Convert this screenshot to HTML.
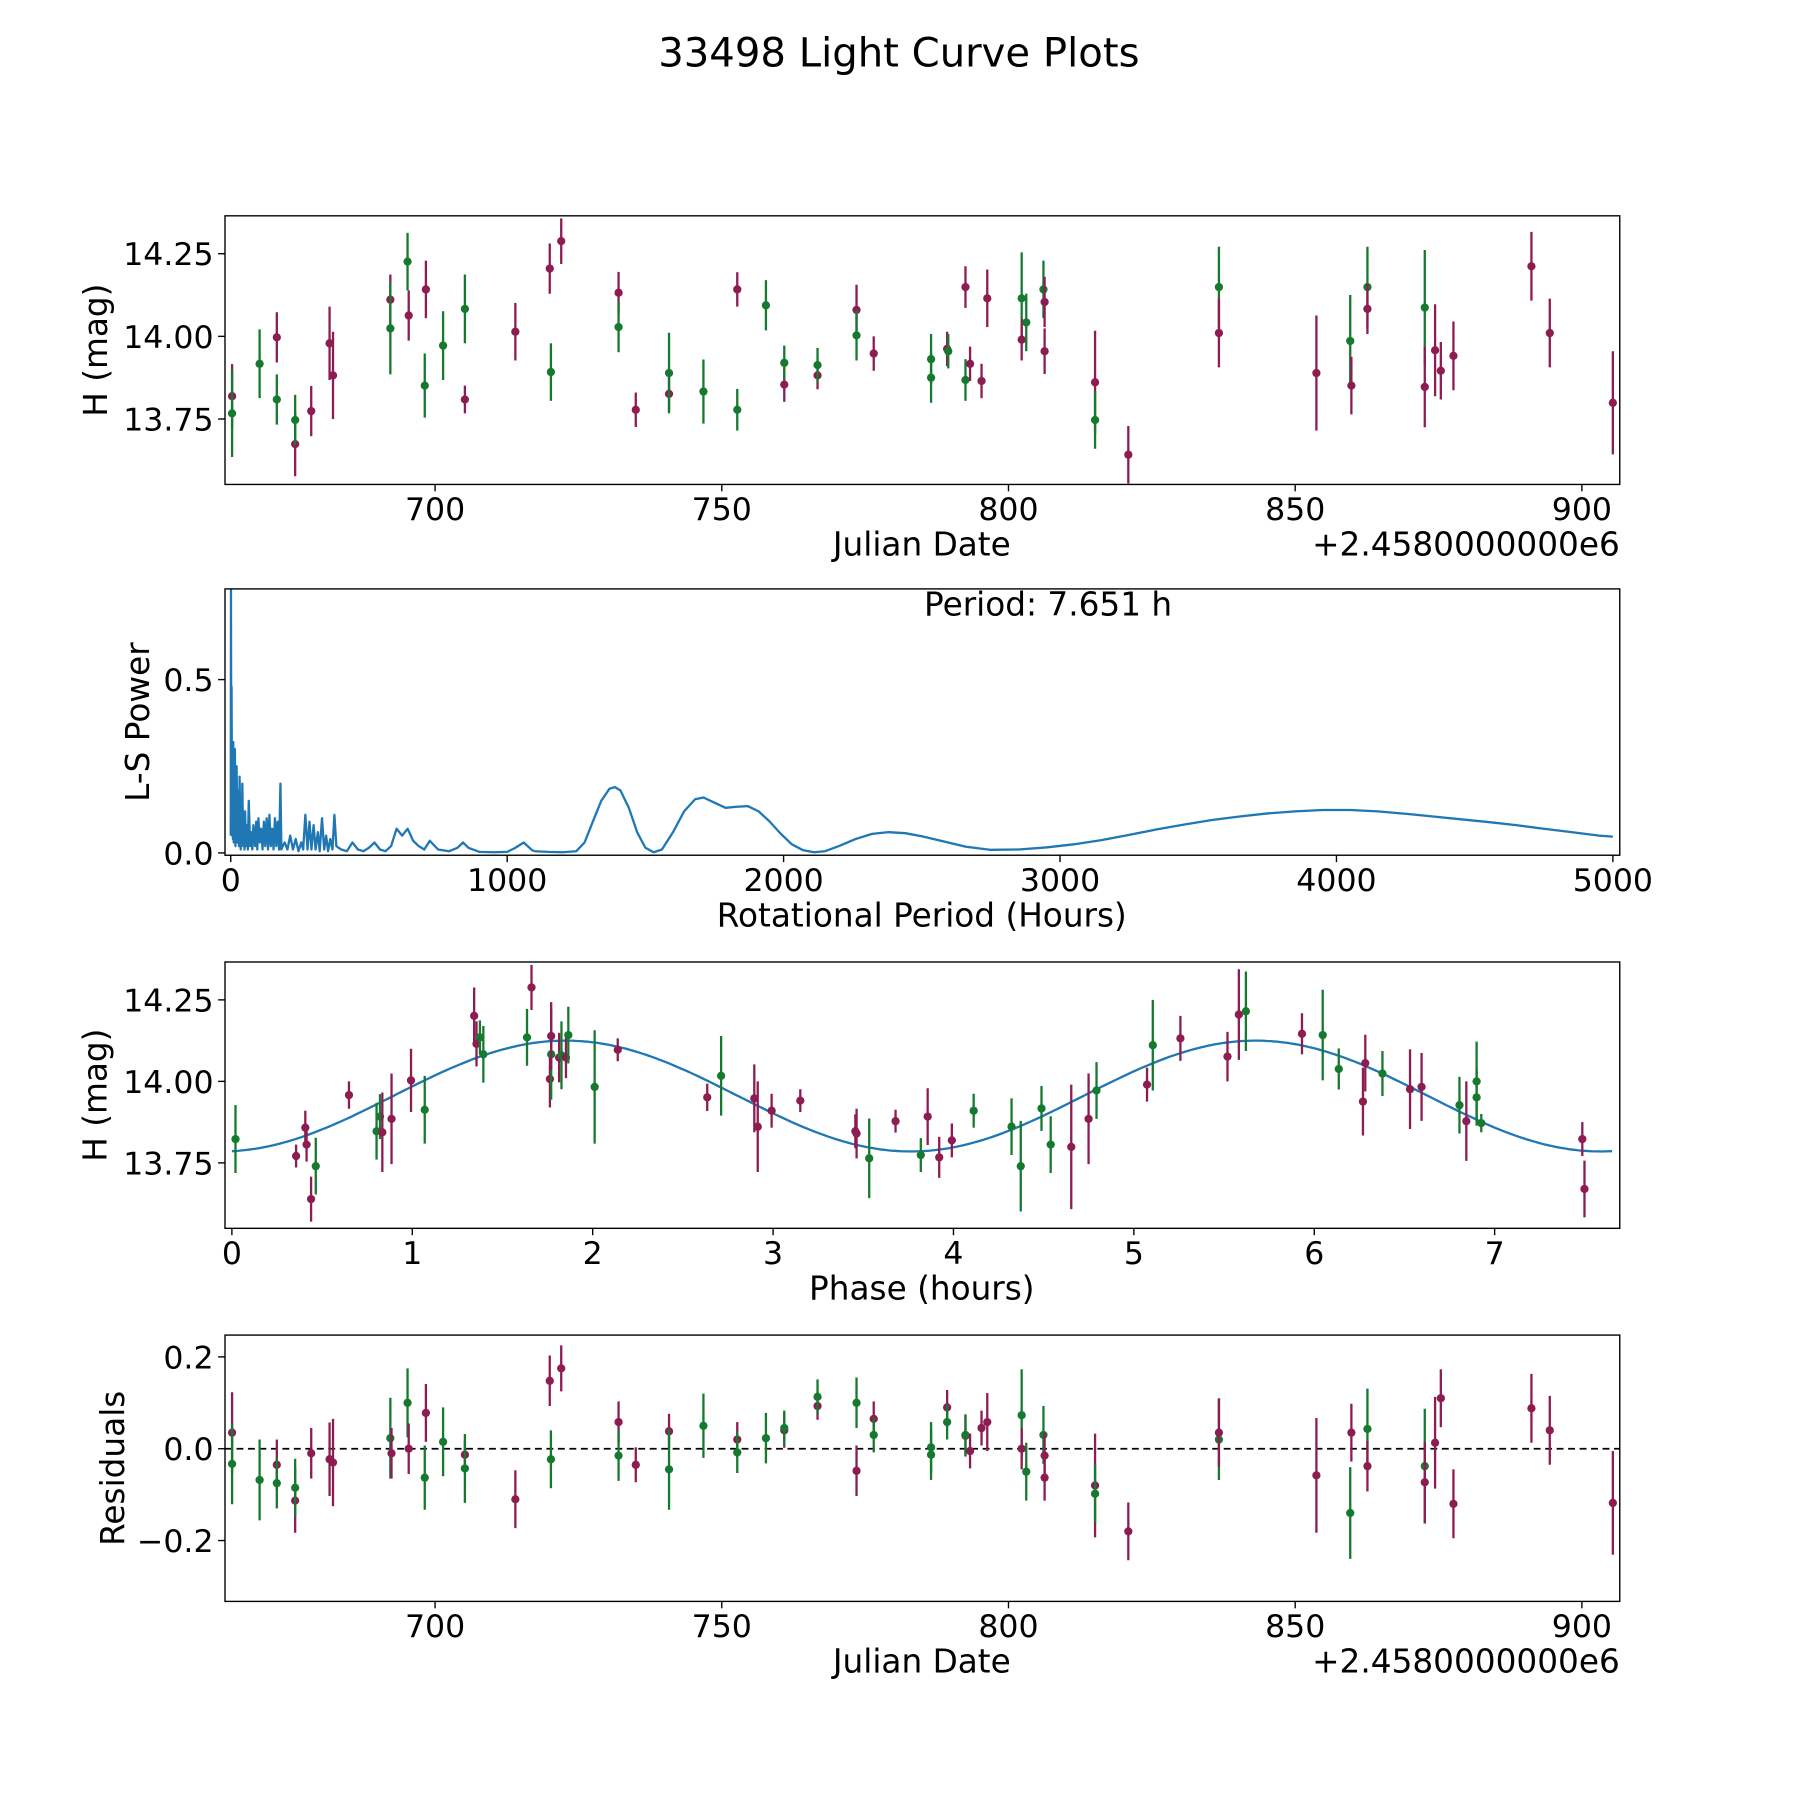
<!DOCTYPE html>
<html><head><meta charset="utf-8"><style>
html,body{margin:0;padding:0;background:#fff}
svg{display:block;font-family:"DejaVu Sans","Liberation Sans",sans-serif}
</style></head><body>
<svg id="fig" width="1800" height="1800" viewBox="0 0 1568 1568" xmlns="http://www.w3.org/2000/svg">
<rect x="0" y="0" width="1568" height="1568" fill="#fff"/>
<text x="783" y="58" font-size="35" text-anchor="middle">33498 Light Curve Plots</text>
<g id="layer"></g>
</svg>
<script>
// ---------- data ----------
const lcJd  = [664.6,664.6,669.4,672.4,672.4,675.6,675.6,678.4,681.6,682.2,692.2,692.2,695.2,695.4,698.4,698.2,701.4,705.2,705.2,714.0,720.0,720.2,722.0,732.0,732.0,735.0,740.8,740.8,746.8,752.7,752.7,757.7,760.9,760.9,766.7,766.7,773.5,773.5,776.5,786.5,786.5,789.3,789.5,792.5,792.5,793.3,795.3,796.3,802.3,802.3,803.1,806.1,806.3,806.3,815.1,815.1,820.9,836.7,836.7,853.7,859.6,859.8,862.6,862.6,872.6,872.6,874.4,875.4,877.6,891.2,894.4,905.4];
const lcMag = [13.819,13.767,13.917,13.997,13.809,13.674,13.747,13.774,13.979,13.882,14.111,14.024,14.226,14.063,14.142,13.851,13.972,13.809,14.083,14.014,14.205,13.892,14.288,14.132,14.028,13.778,13.826,13.889,13.833,14.142,13.778,14.094,13.854,13.920,13.882,13.913,14.080,14.003,13.948,13.875,13.931,13.962,13.955,14.149,13.868,13.917,13.865,14.115,14.115,13.990,14.042,14.142,14.104,13.955,13.861,13.747,13.642,14.149,14.010,13.889,13.986,13.851,14.149,14.083,14.087,13.847,13.958,13.896,13.941,14.212,14.010,13.799];
const lcErr = [.097,.132,.104,.076,.076,.097,.076,.076,.111,.132,.076,.139,.087,.076,.087,.097,.104,.042,.104,.087,.076,.087,.069,.063,.076,.052,.052,.122,.097,.052,.063,.076,.052,.052,.042,.052,.076,.076,.052,.076,.076,.052,.052,.063,.063,.052,.052,.087,.139,.063,.087,.087,.076,.069,.156,.087,.087,.122,.104,.174,.139,.087,.122,.076,.174,.122,.139,.087,.104,.104,.104,.156];
const lcFlt = "mggmgmgmmm"+"mggmmggmgm"+"mgmmgmmggm"+"ggmgmgmgmg"+"gmgmgmmmgm"+"ggmmmgmgmm"+"gmgmgmmmmm"+"mm";
const lsPeriod = [0,1,2,3,5,6,8,9,11,12,14,15,17,18,20,21,24,26,30,32,
 36,38,40,42,45,47,50,52,55,58,62,65,70,73,78,82,88,92,96,100,
 105,110,115,120,125,130,135,140,145,150,155,160,165,170,175,180,183,188,195,205,
 215,225,235,245,255,262,270,278,285,292,300,307,315,322,330,338,345,352,360,368,
 375,382,390,400,420,440,460,480,500,520,540,560,580,600,620,640,660,680,700,720,
 750,790,820,840,860,900,950,1000,1030,1060,1090,1100,1150,1200,1250,1280,1310,1340,1370,1390,
 1410,1440,1470,1500,1530,1560,1600,1640,1680,1710,1750,1790,1830,1870,1910,1950,1990,2030,2070,2110,
 2150,2200,2260,2320,2380,2440,2500,2580,2660,2750,2850,2950,3050,3150,3250,3350,3450,3550,3650,3750,
 3850,3950,4050,4150,4250,4350,4450,4550,4650,4750,4850,4950,5000];
const lsPower = [.05,.76,.1,.48,.05,.32,.04,.32,.03,.27,.05,.30,.02,.22,.04,.25,.03,.18,.02,.22,
 .01,.16,.03,.20,.02,.12,.01,.12,.02,.08,.01,.15,.02,.06,.01,.08,.02,.09,.01,.10,
 .03,.07,.01,.09,.02,.10,.01,.11,.02,.07,.01,.10,.02,.09,.01,.20,.01,.02,.03,.01,
 .05,.01,.04,.005,.03,.01,.11,.01,.09,.01,.08,.01,.06,.005,.10,.01,.05,.005,.04,.01,
 .11,.02,.015,.01,.005,.03,.01,.005,.015,.03,.01,.005,.02,.07,.05,.07,.035,.02,.01,.035,
 .01,.005,.015,.03,.015,.003,.002,.003,.015,.03,.008,.005,.003,.002,.005,.03,.09,.15,.185,.19,
 .18,.13,.06,.015,.002,.01,.06,.12,.155,.16,.145,.13,.133,.135,.12,.09,.055,.025,.008,.002,
 .005,.02,.04,.055,.06,.057,.048,.033,.018,.009,.01,.016,.025,.037,.052,.068,.082,.095,.105,.114,
 .12,.124,.124,.12,.113,.105,.097,.089,.08,.07,.06,.05,.047];
const lsLabel = "Period: 7.651 h";
const phP   = [.02,.356,.407,.414,.439,.465,.649,.802,.821,.834,.885,.993,1.069,1.343,1.356,1.375,1.394,1.636,1.661,1.763,1.77,1.77,1.814,1.827,1.852,1.865,2.011,2.139,2.635,2.712,2.896,2.915,2.992,3.151,3.456,3.463,3.533,3.679,3.819,3.857,3.921,3.991,4.112,4.322,4.373,4.488,4.539,4.653,4.749,4.793,5.073,5.105,5.258,5.519,5.582,5.621,5.932,6.047,6.136,6.27,6.283,6.378,6.531,6.595,6.805,6.843,6.9,6.9,6.926,7.486,7.498];
const phMag = [13.823,13.771,13.858,13.806,13.639,13.74,13.958,13.847,13.892,13.844,13.885,14.003,13.913,14.201,14.115,14.135,14.083,14.135,14.288,14.007,14.083,14.139,14.073,14.08,14.073,14.142,13.983,14.097,13.951,14.017,13.948,13.861,13.91,13.941,13.847,13.84,13.764,13.878,13.774,13.892,13.767,13.819,13.91,13.861,13.74,13.917,13.806,13.799,13.885,13.972,13.99,14.111,14.132,14.076,14.205,14.215,14.146,14.142,14.038,13.938,14.056,14.024,13.976,13.983,13.927,13.878,14.0,13.951,13.872,13.823,13.67];
const phErr = [.104,.035,.052,.052,.069,.087,.042,.087,.069,.122,.139,.097,.104,.087,.069,.052,.087,.087,.069,.087,.139,.104,.076,.104,.063,.087,.174,.035,.042,.122,.104,.139,.052,.035,.052,.076,.122,.035,.052,.087,.063,.052,.052,.087,.139,.069,.087,.191,.139,.087,.052,.139,.069,.076,.139,.122,.063,.139,.063,.104,.087,.069,.122,.104,.087,.122,.122,.087,.028,.052,.087];
const phFlt = "gmmmmgmggm"+"mmgmmgggmm"+"gmmgmggmmg"+"mmmmmmgmgm"+"mmgggggmmg"+"mgmmmgmggm"+"mgmmgmgggm"+"m";
const fitMean = 13.955, fitAmp = 0.17, fitPeak = 1.85, fitPeriod = 7.651;
const rsJd  = [664.6,664.6,669.4,672.4,672.4,675.6,675.6,678.4,681.6,682.2,692.2,692.4,695.2,695.4,698.4,698.2,701.4,705.2,705.2,714,720,720.2,722,732,732,735,740.8,740.8,746.8,752.7,752.7,757.7,760.9,760.9,766.7,766.7,773.5,773.5,776.5,776.5,786.5,786.5,789.3,789.3,792.5,792.5,793.3,795.3,796.3,802.3,802.3,803.1,806.1,806.3,806.3,815.1,815.1,820.9,836.7,836.7,853.7,859.6,859.8,862.6,862.6,872.6,872.6,874.4,875.4,877.6,891.2,894.4,905.4];
const rsVal = [.035,-.033,-.068,-.035,-.075,-.113,-.085,-.01,-.023,-.03,.023,-.01,.1,0,.078,-.063,.015,-.013,-.043,-.11,.148,-.023,.175,.058,-.015,-.035,.038,-.045,.05,.02,-.008,.023,.04,.045,.093,.113,.1,-.048,.065,.03,-.013,.003,.09,.058,.028,.03,-.005,.045,.058,.073,0,-.05,.03,-.063,-.015,-.08,-.098,-.18,.02,.035,-.058,-.14,.035,.043,-.038,-.038,-.073,.013,.11,-.12,.088,.04,-.118];
const rsErr = [.088,.088,.088,.055,.055,.07,.063,.055,.08,.095,.088,.055,.075,.055,.063,.07,.075,.03,.075,.063,.055,.063,.05,.045,.055,.038,.038,.088,.07,.038,.045,.055,.038,.038,.03,.038,.055,.055,.038,.038,.055,.055,.038,.038,.045,.045,.038,.038,.063,.1,.045,.063,.063,.05,.05,.113,.063,.063,.088,.075,.125,.1,.063,.088,.055,.125,.088,.1,.063,.075,.075,.075,.113];
const rsFlt = "mggmgmgmmm"+"gmgmmggmgm"+"mgmmgmmggm"+"ggmgmggmmg"+"ggmgmgmmmg"+"mggmmmgmgm"+"mgmgmgmmmm"+"mmm";
const jdTicks = [700,750,800,850,900], magTicks = [13.75,14.00,14.25];
const lsTicksX = [0,1000,2000,3000,4000,5000], lsTicksY = [0.0,0.5];
const phTicks = [0,1,2,3,4,5,6,7], rsTicks = [-0.2,0.0,0.2];

// ---------- helpers ----------
const NS = "http://www.w3.org/2000/svg";
const layer = document.getElementById('layer');
function mk(tag, attrs, parent){ const e=document.createElementNS(NS,tag); for(const k in attrs) e.setAttribute(k,attrs[k]); (parent||layer).appendChild(e); return e; }
const COL = {m:'#8c1c52', g:'#157a30'};
const L=196, R=1411, TF=27.5, LF=28.5;
function lin(d0,d1,r0,r1){ return v => r0+(v-d0)*(r1-r0)/(d1-d0); }

function panel(name, top, bottom, sx, sy, xt, yt, xfmt, yfmt, xlab, ylab, ylabX, offset){
  const g = mk('g',{});
  
  
  const cid = 'clip-'+name;
  const cp = mk('clipPath',{id:cid},g); mk('rect',{x:L,y:top,width:R-L,height:bottom-top},cp);
  const plot = mk('g',{'clip-path':'url(#'+cid+')'},g);
  
  
  xt.forEach(v=>{ const x=sx(v);
    mk('line',{x1:x,x2:x,y1:bottom,y2:bottom+6,stroke:'#000','stroke-width':1.2},g);
    const t=mk('text',{x:x,y:bottom+31,'font-size':TF,'text-anchor':'middle'},g); t.textContent=xfmt(v);
    
    
  });
  yt.forEach(v=>{ const y=sy(v);
    mk('line',{x1:L-6,x2:L,y1:y,y2:y,stroke:'#000','stroke-width':1.2},g);
    const t=mk('text',{x:L-10,y:y+10,'font-size':TF,'text-anchor':'end'},g); t.textContent=yfmt(v);
    
    
  });
  const xl=mk('text',{x:803,y:bottom+62,'font-size':LF,'text-anchor':'middle'},g); xl.textContent=xlab;
  
  
  const cy=(top+bottom)/2;
  const yl=mk('text',{x:ylabX,y:cy,'font-size':LF,'text-anchor':'middle',transform:'rotate(-90 '+ylabX+' '+cy+')'},g); yl.textContent=ylab;
  
  
  if(offset){ const o=mk('text',{x:R,y:bottom+62,'font-size':LF,'text-anchor':'end'},g); o.textContent=offset;
    
     }
  const fr=mk('rect',{x:L,y:top,width:R-L,height:bottom-top,fill:'none',stroke:'#000','stroke-width':1.2},g);
  
  
  return plot;
}
function errpts(plot, xs, ys, es, fl, sx, sy, nm){
  for(let i=0;i<xs.length;i++){
    const x=sx(xs[i]), c=COL[fl[i]]||COL.m;
    const ln=mk('line',{x1:x,x2:x,y1:sy(ys[i]-es[i]),y2:sy(ys[i]+es[i]),stroke:c,'stroke-width':2},plot);
    
    
    const p=mk('circle',{cx:x,cy:sy(ys[i]),r:3.6,fill:c},plot);
    
    
  }
}
const f2 = v=>v.toFixed(2), f1=v=>v.toFixed(1), f0=v=>String(v);
const fm = v=>(v<0?'\u2212':'')+Math.abs(v).toFixed(1);
const OFF = '+2.4580000000e6';

// Panel 1
const sx1 = lin(700,900,379,1378), sy1 = lin(14.0,14.25,293,221);
const p1 = panel('light-curve-panel',188,422,sx1,sy1,jdTicks,magTicks,f0,f2,'Julian Date','H (mag)',93,OFF);
errpts(p1, lcJd, lcMag, lcErr, lcFlt, sx1, sy1, 'light-curve');

// Panel 2
const sx2 = lin(0,5000,201,1405), sy2 = lin(0,0.5,743,592);
const p2 = panel('periodogram-panel',513,745,sx2,sy2,lsTicksX,lsTicksY,f0,f1,'Rotational Period (Hours)','L-S Power',130,null);
const pts = lsPeriod.map((p,i)=>sx2(p).toFixed(1)+','+sy2(lsPower[i]).toFixed(1)).join(' ');
const pl = mk('polyline',{points:pts,fill:'none',stroke:'#1f77b4','stroke-width':2,'stroke-linejoin':'round'},p2);


const ann = mk('text',{x:913,y:536,'font-size':LF,'text-anchor':'middle'});
ann.textContent = lsLabel;



// Panel 3
const sx3 = lin(0,7,202,1302), sy3 = lin(14.0,14.25,942,871);
const p3 = panel('phase-panel',838,1070,sx3,sy3,phTicks,magTicks,f0,f2,'Phase (hours)','H (mag)',93,null);
const fitPts=[];
for(let k=0;k<=400;k++){ const p=fitPeriod*k/400; fitPts.push(sx3(p).toFixed(1)+','+sy3(fitMean+fitAmp*Math.cos(2*Math.PI*(p-fitPeak)/(fitPeriod/2))).toFixed(1)); }
const fl = mk('polyline',{points:fitPts.join(' '),fill:'none',stroke:'#1f77b4','stroke-width':2},p3);


errpts(p3, phP, phMag, phErr, phFlt, sx3, sy3, 'phased');

// Panel 4
const sy4 = lin(0,0.2,1262,1182);
const p4 = panel('residuals-panel',1163,1395,sx1,sy4,jdTicks,rsTicks,f0,fm,'Julian Date','Residuals',108,OFF);
const zl = mk('line',{x1:L,x2:R,y1:sy4(0),y2:sy4(0),stroke:'#000','stroke-width':1.5,'stroke-dasharray':'6,4'},p4);


errpts(p4, rsJd, rsVal, rsErr, rsFlt, sx1, sy4, 'residual');
</script>
</body></html>
